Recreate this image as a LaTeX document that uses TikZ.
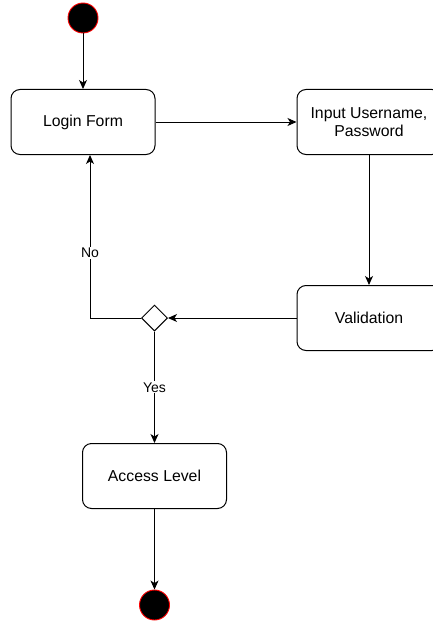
\documentclass[tikz,border=0pt]{standalone}
\usepackage{fontspec}
\setmainfont{Liberation Sans}
\usetikzlibrary{arrows.meta,shapes.geometric}
\begin{document}
\begin{tikzpicture}[x=1pt,y=-1pt,
  act/.style={draw=black,line width=1pt,rounded corners=9pt,fill=white,minimum width=144pt,minimum height=65pt,inner sep=0pt,align=center,font=\fontsize{15.8}{18}\selectfont},
  dot/.style={circle,fill=black,draw=red,line width=0.9pt,minimum size=30pt,inner sep=0pt},
  dec/.style={diamond,draw=black,line width=1pt,fill=white,minimum width=26pt,minimum height=26pt,inner sep=0pt},
  flow/.style={line width=1pt,-{Stealth[length=9pt,width=8pt,inset=2.5pt]}},
  lbl/.style={fill=white,inner sep=1pt,font=\fontsize{14}{16}\selectfont}]
\useasboundingbox (0,0) rectangle (432,623);
\node[dot] (start) at (83,18) {};
\node[act] (login) at (83,122) {Login Form};
\node[act] (input) at (369,122) {Input Username,\\Password};
\node[act] (valid) at (369,318) {Validation};
\node[dec] (dia) at (154.5,318) {};
\node[act] (access) at (154.5,476) {Access Level};
\node[dot] (stop) at (154.5,605) {};
\draw[flow] (start) -- (login);
\draw[flow] (login.east) -- (login.east -| input.west);
\draw[flow] (input) -- (valid);
\draw[flow] (valid.west) -- (dia.east);
\draw[flow] (dia.west) -| node[lbl,pos=0.70] {No} (90,155);
\draw[flow] (dia.south) -- node[lbl,pos=0.5] {Yes} (access.north);
\draw[flow] (access) -- (stop);
\end{tikzpicture}
\end{document}
